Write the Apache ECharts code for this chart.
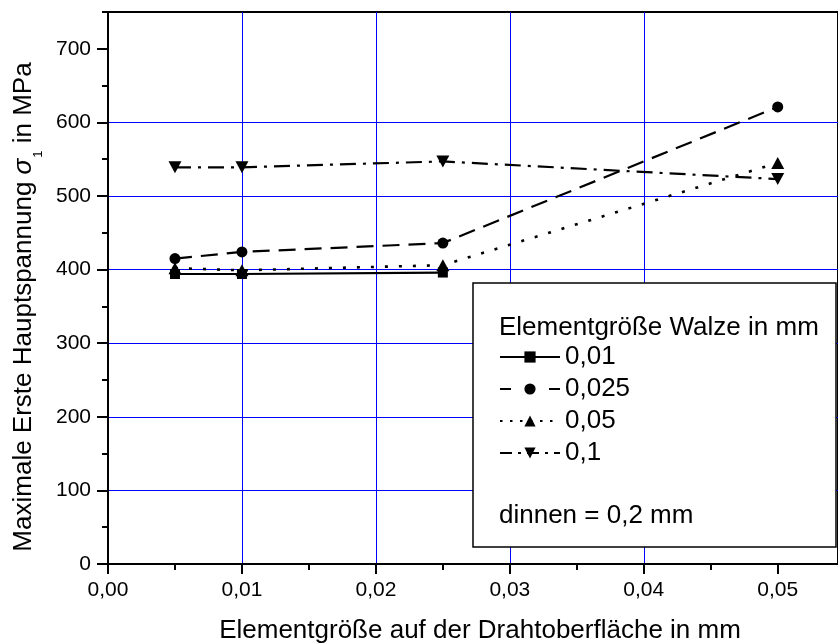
<!DOCTYPE html>
<html>
<head>
<meta charset="utf-8">
<script src="https://cdn.jsdelivr.net/npm/echarts@6/dist/echarts.min.js"></script>
<style>
  html, body { margin: 0; padding: 0; background: #fff; }
  #chart { width: 838px; height: 644px; }
</style>
</head>
<body>
<div id="chart"></div>
<script>
// Element size on the wire surface (mm)
const xPositions = [0.005, 0.01, 0.025, 0.05];
// Roll element size (mm) — one series each
const seriesNames = ['0,01', '0,025', '0,05', '0,1'];
// Maximum first principal stress sigma_1 (MPa)
const sigma001 = [394, 394, 396];
const sigma0025 = [415, 424, 436, 621];
const sigma005 = [402, 399, 406, 545];
const sigma01 = [539, 539, 547, 523];
// Axis ticks
const xMajorTicks = [0, 0.01, 0.02, 0.03, 0.04, 0.05];
const xMinorTicks = [0.005, 0.015, 0.025, 0.035, 0.045];
const yMajorTicks = [0, 100, 200, 300, 400, 500, 600, 700];
const yMinorTicks = [50, 150, 250, 350, 450, 550, 650, 750];

const FONT = "'Liberation Sans', Arial, Helvetica, sans-serif";
const GRID_BLUE = '#0000ff';

function pairs(vals) {
  return vals.map((v, i) => [xPositions[i], v]);
}

const chart = echarts.init(document.getElementById('chart'), null, { renderer: 'canvas' });

const lineBase = { color: '#000', width: 2.2 };

const option = {
  animation: false,
  backgroundColor: '#fff',
  grid: {
    left: 108, top: 12, right: -7, bottom: 80,
    show: true, borderColor: '#000', borderWidth: 2, backgroundColor: 'transparent'
  },
  xAxis: [
    {
      type: 'value', min: 0, max: 0.0545, interval: 0.01, position: 'bottom',
      axisLine: { show: true, onZero: false, lineStyle: { color: '#000', width: 2 } },
      axisTick: { show: true, customValues: xMajorTicks, length: 10, lineStyle: { color: '#000', width: 2 } },
      axisLabel: {
        customValues: xMajorTicks, margin: 16, color: '#000', fontSize: 21, fontFamily: FONT,
        formatter: v => v.toFixed(2).replace('.', ',')
      },
      splitLine: { show: true, showMinLine: false, showMaxLine: false, lineStyle: { color: GRID_BLUE, width: 1 } }
    },
    {
      type: 'value', min: 0, max: 0.0545, position: 'bottom',
      axisLine: { show: false },
      axisTick: { show: true, customValues: xMinorTicks, length: 6, lineStyle: { color: '#000', width: 2 } },
      axisLabel: { show: false },
      splitLine: { show: false }
    }
  ],
  yAxis: [
    {
      type: 'value', min: 0, max: 750, interval: 100, position: 'left',
      axisLine: { show: true, onZero: false, lineStyle: { color: '#000', width: 2 } },
      axisTick: { show: true, customValues: yMajorTicks, length: 11, lineStyle: { color: '#000', width: 2 } },
      axisLabel: { customValues: yMajorTicks, margin: 17, color: '#000', fontSize: 21, fontFamily: FONT },
      splitLine: { show: true, showMinLine: false, showMaxLine: false, lineStyle: { color: GRID_BLUE, width: 1 } }
    },
    {
      type: 'value', min: 0, max: 750, position: 'left',
      axisLine: { show: false },
      axisTick: { show: true, customValues: yMinorTicks, length: 6, lineStyle: { color: '#000', width: 2 } },
      axisLabel: { show: false },
      splitLine: { show: false }
    }
  ],
  legend: {
    orient: 'vertical', left: 499, top: 344, padding: 0,
    itemWidth: 60, itemHeight: 14, itemGap: 6, selectedMode: false, z: 6,
    textStyle: { color: '#000', fontSize: 26, fontFamily: FONT },
    data: [
      { name: seriesNames[0] },
      { name: seriesNames[1], lineStyle: { type: [11, 38] } },
      { name: seriesNames[2], lineStyle: { type: [2.5, 7.5] } },
      { name: seriesNames[3], lineStyle: { type: [12, 6, 3, 6] } }
    ]
  },
  graphic: [
    {
      type: 'rect', z: 3, shape: { x: 473, y: 283, width: 363, height: 264 },
      style: { fill: '#fff', stroke: '#000', lineWidth: 1.5 }
    },
    {
      type: 'text', z: 7, x: 499, y: 328,
      style: { text: 'Elementgröße Walze in mm', fontSize: 26, fontFamily: FONT, fill: '#000', textAlign: 'left', textVerticalAlign: 'middle' }
    },
    {
      type: 'text', z: 7, x: 499, y: 516,
      style: { text: 'dinnen = 0,2 mm', fontSize: 26, fontFamily: FONT, fill: '#000', textAlign: 'left', textVerticalAlign: 'middle' }
    },
    {
      type: 'text', z: 7, x: 480, y: 631,
      style: { text: 'Elementgröße auf der Drahtoberfläche in mm', fontSize: 26, fontFamily: FONT, fill: '#000', textAlign: 'center', textVerticalAlign: 'middle' }
    },
    {
      type: 'text', z: 7, x: 24, y: 307, rotation: Math.PI / 2,
      style: {
        text: 'Maximale Erste Hauptspannung {i|σ}{s|1} in MPa',
        fontSize: 26, fontFamily: FONT, fill: '#000', textAlign: 'center', textVerticalAlign: 'middle',
        rich: {
          i: { fontSize: 26, fontFamily: FONT, fontStyle: 'italic', fill: '#000' },
          s: { fontSize: 13, fontFamily: FONT, fill: '#000', padding: [28, 0, 0, 1] }
        }
      }
    }
  ],
  series: [
    {
      name: seriesNames[0], type: 'line', data: pairs(sigma001),
      symbol: 'rect', symbolSize: 10,
      lineStyle: Object.assign({ type: 'solid' }, lineBase),
      itemStyle: { color: '#000' }
    },
    {
      name: seriesNames[1], type: 'line', data: pairs(sigma0025),
      symbol: 'circle', symbolSize: 11,
      lineStyle: Object.assign({ type: [17, 9] }, lineBase),
      itemStyle: { color: '#000' }
    },
    {
      name: seriesNames[2], type: 'line', data: pairs(sigma005),
      symbol: 'triangle', symbolSize: [13, 12],
      lineStyle: Object.assign({ type: [3, 11] }, lineBase, { width: 2.6 }),
      itemStyle: { color: '#000' }
    },
    {
      name: seriesNames[3], type: 'line', data: pairs(sigma01),
      symbol: 'path://M0,0L12,0L6,11Z', symbolSize: [13, 12], symbolKeepAspect: false,
      lineStyle: Object.assign({ type: [16, 7, 3, 7] }, lineBase),
      itemStyle: { color: '#000' }
    }
  ]
};

chart.setOption(option);
</script>
</body>
</html>
